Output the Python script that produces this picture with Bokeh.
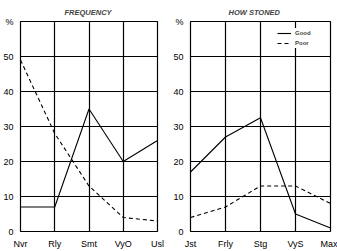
from bokeh.plotting import figure
from bokeh.layouts import row
from bokeh.models import FixedTicker, Legend, LegendItem
from bokeh.embed import file_html
from bokeh.resources import INLINE

freq_cats = ["Nvr", "Rly", "Smt", "VyO", "Usl"]
freq_good = [7, 7, 35, 20, 26]
freq_poor = [49, 28, 13, 4, 3]

stoned_cats = ["Jst", "Frly", "Stg", "VyS", "Max"]
stoned_good = [17, 27, 32.5, 5, 1]
stoned_poor = [4, 7, 13, 13, 8]

y_ticks = [0, 10, 20, 30, 40, 50, 60]
y_labels = ["0", "10", "20", "30", "40", "50", "%"]

FONT = "Liberation Sans"


def panel(title, cats, good, poor, width, left, right, title_off, legend=False):
    p = figure(width=width, height=251, x_range=(0, 4), y_range=(0, 60),
               output_backend="svg", toolbar_location=None,
               min_border_left=left, min_border_right=right,
               min_border_top=19, min_border_bottom=19)
    p.title.text = title
    p.title.align = "left"
    p.title.offset = title_off
    p.title.text_font = "Liberation Sans"
    p.title.text_font_style = "bold italic"
    p.title.text_font_size = "7.5px"
    p.outline_line_color = "black"
    p.outline_line_width = 1.2
    xs = list(range(len(cats)))
    p.xaxis.ticker = FixedTicker(ticks=xs)
    p.xaxis.major_label_overrides = {i: c for i, c in enumerate(cats)}
    p.yaxis.ticker = FixedTicker(ticks=y_ticks)
    p.yaxis.major_label_overrides = {t: l for t, l in zip(y_ticks, y_labels)}
    for ax in (p.xaxis[0], p.yaxis[0]):
        ax.axis_line_color = None
        ax.major_tick_line_color = None
        ax.minor_tick_line_color = None
        ax.major_label_text_font = FONT
        ax.major_label_text_font_size = "9px"
        ax.major_label_text_color = "black"
        ax.major_label_standoff = 1
    p.xgrid.grid_line_color = "black"
    p.ygrid.grid_line_color = "black"
    p.xgrid.grid_line_width = 1.2
    p.ygrid.grid_line_width = 1.2
    p.xgrid.grid_line_alpha = 1
    p.ygrid.grid_line_alpha = 1
    g = p.line(xs, good, line_color="black", line_width=1.1)
    d = p.line(xs, poor, line_color="black", line_width=1.1, line_dash="4 3")
    if legend:
        lg = Legend(items=[LegendItem(label="Good", renderers=[g]),
                           LegendItem(label="Poor", renderers=[d])],
                    location=(87, 183), border_line_color=None,
                    background_fill_color="white", background_fill_alpha=1,
                    label_text_font="Liberation Sans", label_text_font_style="bold",
                    label_text_font_size="6px", glyph_width=14, glyph_height=10,
                    label_height=10, spacing=0, padding=2, margin=0,
                    label_standoff=4)
        p.add_layout(lg)
    return p


p1 = panel("FREQUENCY", freq_cats, freq_good, freq_poor, 168, 16, 11, 44)
p2 = panel("HOW STONED", stoned_cats, stoned_good, stoned_poor, 169, 22, 7, 38, legend=True)
layout = row(p1, p2, spacing=0)

open("out.html", "w").write(file_html(layout, INLINE))
